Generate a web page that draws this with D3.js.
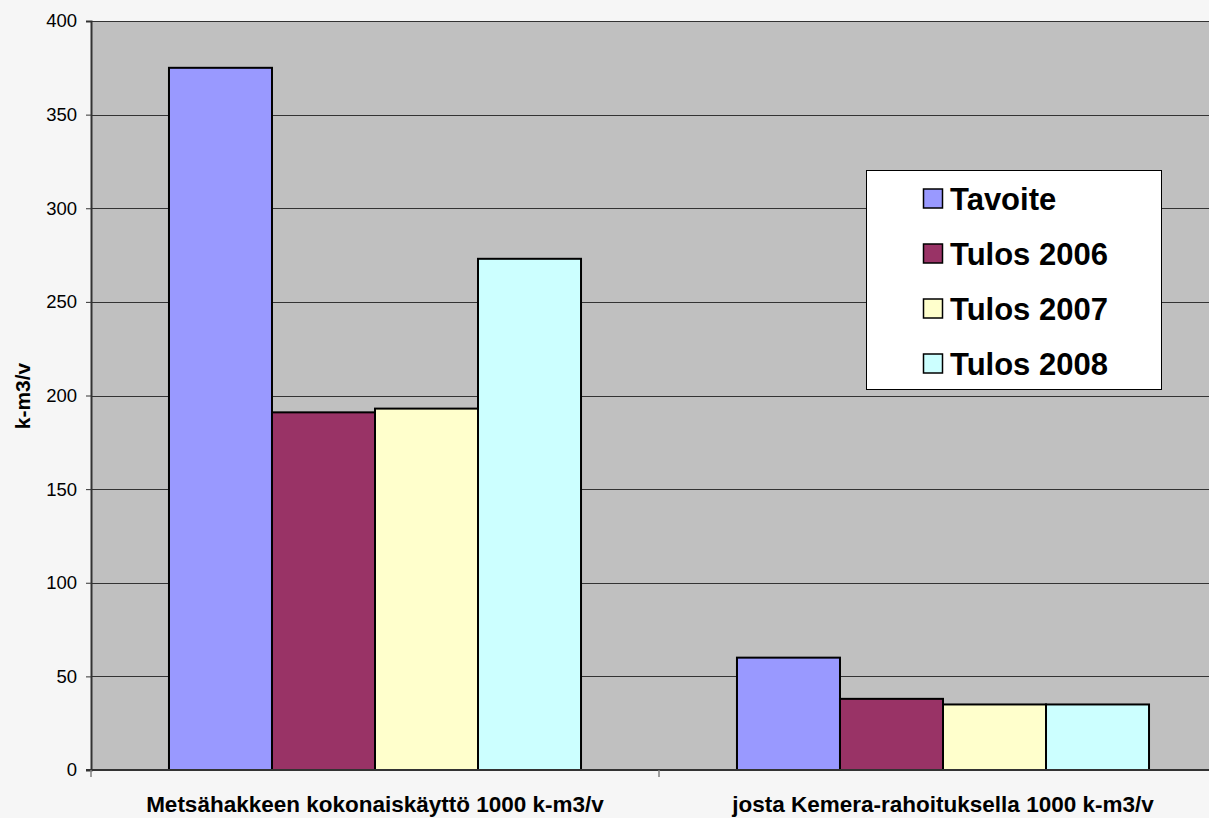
<!DOCTYPE html>
<html><head><meta charset="utf-8">
<script src="https://cdn.jsdelivr.net/npm/d3@7"></script>
<style>html,body{margin:0;padding:0;background:#f6f6f6;overflow:hidden}</style>
</head><body>
<svg id="c" width="1209" height="818"></svg>
<script>
const categories = ["Metsähakkeen kokonaiskäyttö 1000 k-m3/v", "josta Kemera-rahoituksella 1000 k-m3/v"];
const seriesNames = ["Tavoite", "Tulos 2006", "Tulos 2007", "Tulos 2008"];
const tavoite = [375, 60];
const tulos2006 = [191, 38];
const tulos2007 = [193, 35];
const tulos2008 = [273, 35];
const yTicks = [0, 50, 100, 150, 200, 250, 300, 350, 400];
const colors = ["#9999ff", "#993366", "#ffffcc", "#ccffff"];
const seriesValues = [tavoite, tulos2006, tulos2007, tulos2008];

(function(){
const svg = d3.select("#c");
const font = "Arial, 'Liberation Sans', sans-serif";
const pL = 91, pT = 21, pB = 770, pR = 1227;

svg.append("rect").attr("width",1209).attr("height",818).attr("fill","#f6f6f6");

const x = d3.scaleBand().domain(categories).range([pL, pR]).paddingInner(0).paddingOuter(0);
const y = d3.scaleLinear().domain([0, 400]).range([pB, pT]);
const inner = d3.scaleBand().domain(seriesNames).range([0, x.bandwidth()]).paddingInner(0).paddingOuter(0.757);

svg.append("rect").attr("x",pL).attr("y",pT).attr("width",pR-pL).attr("height",pB-pT).attr("fill","#c0c0c0");
svg.append("line").attr("x1",pL).attr("x2",pR).attr("y1",pT+0.5).attr("y2",pT+0.5).attr("stroke","#808080").attr("stroke-width",1);

// gridlines
svg.append("g").selectAll("line").data(yTicks.filter(d=>d>0)).join("line")
  .attr("x1",pL).attr("x2",pR)
  .attr("y1",d=>Math.round(y(d))+0.5).attr("y2",d=>Math.round(y(d))+0.5)
  .attr("stroke","#333").attr("stroke-width",1);

// bars
const g = svg.append("g");
categories.forEach((c, ci) => {
  seriesNames.forEach((s, si) => {
    const v = seriesValues[si][ci];
    g.append("rect")
      .attr("x", x(c) + inner(s))
      .attr("y", y(v))
      .attr("width", inner.bandwidth())
      .attr("height", y(0) - y(v))
      .attr("fill", colors[si])
      .attr("stroke", "#000").attr("stroke-width", 2);
  });
});

// y axis
const yAxis = d3.axisLeft(y).tickValues(yTicks).tickSize(5).tickPadding(9);
const ya = svg.append("g").attr("transform",`translate(${pL},0)`).call(yAxis);
ya.select(".domain").attr("stroke","#333").attr("stroke-width",2);
ya.selectAll(".tick line").attr("stroke","#333");
ya.selectAll("text").attr("font-family",font).attr("font-size",18.5).attr("fill","#000");

// x axis
const xa = svg.append("g").attr("transform",`translate(0,${pB})`);
xa.append("line").attr("x1",pL-5).attr("x2",pR).attr("y1",0).attr("y2",0).attr("stroke","#333").attr("stroke-width",2);
[pL, x(categories[1])].forEach(px => {
  xa.append("line").attr("x1",px).attr("x2",px).attr("y1",0).attr("y2",7).attr("stroke","#808080").attr("stroke-width",1.5);
});
xa.selectAll("text.cat").data(categories).join("text").attr("class","cat")
  .attr("x", d => x(d) + x.bandwidth()/2)
  .attr("y", 42)
  .attr("text-anchor","middle")
  .attr("font-family",font).attr("font-weight","bold").attr("font-size",22.5)
  .text(d=>d);

// y title
svg.append("text").attr("transform","translate(30,396) rotate(-90)")
  .attr("text-anchor","middle").attr("font-family",font).attr("font-weight","bold").attr("font-size",21)
  .text("k-m3/v");

// legend
const lg = svg.append("g").attr("transform","translate(866,170)");
lg.append("rect").attr("x",0.5).attr("y",0.5).attr("width",295).attr("height",219).attr("fill","#fff").attr("stroke","#000").attr("stroke-width",1);
seriesNames.forEach((s, i) => {
  const yy = 19 + i*55;
  lg.append("rect").attr("x",57.5).attr("y",yy).attr("width",19).attr("height",19).attr("fill",colors[i]).attr("stroke","#000").attr("stroke-width",1.5);
  lg.append("text").attr("x",84).attr("y",yy+21).attr("font-family",font).attr("font-weight","bold").attr("font-size",31).text(s);
});
})();
</script>
</body></html>
